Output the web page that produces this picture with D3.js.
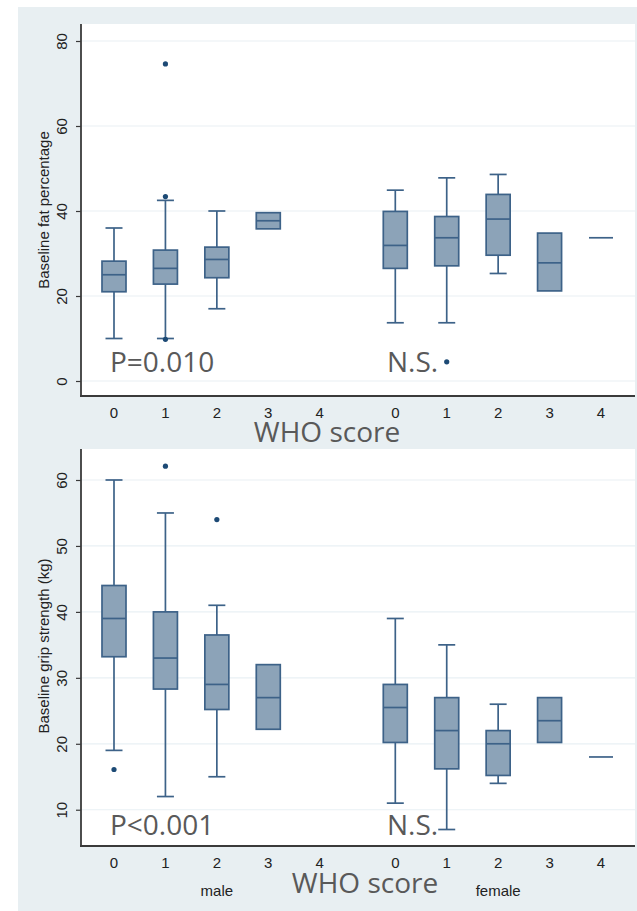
<!DOCTYPE html>
<html>
<head>
<meta charset="utf-8">
<script src="https://cdn.jsdelivr.net/npm/d3@7"></script>
<style>
  body { margin: 0; background: #ffffff; }
  svg { display: block; }
</style>
</head>
<body>
<div id="chart"></div>
<script>
// categories
var whoScores = [0, 1, 2, 3, 4];
var sexes = ["male", "female"];

// box stats per WHO score: [lower whisker, q1, median, q3, upper whisker]
var fatMale = [[10, 21, 25, 28.2, 36], [10, 22.8, 26.5, 30.8, 42.5], [17, 24.3, 28.6, 31.5, 40], [35.8, 35.8, 37.7, 39.6, 39.6], null];
var fatFemale = [[13.7, 26.5, 31.9, 39.9, 44.9], [13.7, 27.1, 33.7, 38.7, 47.8], [25.3, 29.6, 38.1, 43.9, 48.6], [21.2, 21.2, 27.8, 34.8, 34.8], [33.7, 33.7, 33.7, 33.7, 33.7]];
var fatOutliersMale = [[], [74.6, 43.4, 9.8], [], [], []];
var fatOutliersFemale = [[], [4.5], [], [], []];

var gripMale = [[19, 33.2, 39, 44, 60], [12, 28.3, 33, 40, 55], [15, 25.2, 29, 36.5, 41], [22.2, 22.2, 27, 32, 32], null];
var gripFemale = [[11, 20.2, 25.5, 29, 39], [7, 16.2, 22, 27, 35], [14, 15.2, 20, 22, 26], [20.2, 20.2, 23.5, 27, 27], [18, 18, 18, 18, 18]];
var gripOutliersMale = [[16.1], [62.1], [54], [], []];
var gripOutliersFemale = [[], [], [], [], []];

// tick labels
var fatTicks = [0, 20, 40, 60, 80];
var gripTicks = [10, 20, 30, 40, 50, 60];

var width = 637,
    height = 911,
    femaleOffset = 5.47, // gap between the two sex groups, in category units
    boxW = 24,
    capW = 17;

var boxFill = "#8ca3b8",
    boxStroke = "#3d6288",
    dotFill = "#1d4a75",
    gridCol = "#e9f0f4",
    noteCol = "#595959";

var svg = d3.select("#chart").append("svg")
    .attr("width", width)
    .attr("height", height);

// light outer graph region
svg.append("rect")
    .attr("x", 18)
    .attr("y", 7)
    .attr("width", width - 18)
    .attr("height", height - 7)
    .attr("fill", "#e8eff2");

var x = d3.scaleLinear()
    .domain([0, femaleOffset + 4])
    .range([114, 601]);

function pos(sexIdx, score) {
    return x(score + (sexIdx ? femaleOffset : 0));
}

function drawPanel(cfg) {
    var y = d3.scaleLinear().domain(cfg.domain).range([cfg.bottom, cfg.top]);
    var g = svg.append("g");

    g.append("rect")
        .attr("x", 81)
        .attr("y", cfg.top)
        .attr("width", 635 - 81)
        .attr("height", cfg.bottom - cfg.top)
        .attr("fill", "#ffffff");

    // grid
    g.append("g")
        .selectAll("line")
        .data(cfg.ticks)
        .enter().append("line")
        .attr("x1", 81).attr("x2", 635)
        .attr("y1", function(d) { return y(d); })
        .attr("y2", function(d) { return y(d); })
        .attr("stroke", gridCol)
        .attr("stroke-width", 1.2);

    // boxes
    var boxes = [];
    [cfg.male, cfg.female].forEach(function(arr, si) {
        arr.forEach(function(s, i) {
            if (s) boxes.push({ cx: pos(si, whoScores[i]), s: s });
        });
    });

    var bg = g.append("g").selectAll("g")
        .data(boxes)
        .enter().append("g");

    bg.filter(function(d) { return d.s[4] > d.s[3]; })
        .append("line")
        .attr("x1", function(d) { return d.cx; }).attr("x2", function(d) { return d.cx; })
        .attr("y1", function(d) { return y(d.s[3]); })
        .attr("y2", function(d) { return y(d.s[4]); });
    bg.filter(function(d) { return d.s[4] > d.s[3]; })
        .append("line")
        .attr("x1", function(d) { return d.cx - capW / 2; }).attr("x2", function(d) { return d.cx + capW / 2; })
        .attr("y1", function(d) { return y(d.s[4]); })
        .attr("y2", function(d) { return y(d.s[4]); });
    bg.filter(function(d) { return d.s[0] < d.s[1]; })
        .append("line")
        .attr("x1", function(d) { return d.cx; }).attr("x2", function(d) { return d.cx; })
        .attr("y1", function(d) { return y(d.s[1]); })
        .attr("y2", function(d) { return y(d.s[0]); });
    bg.filter(function(d) { return d.s[0] < d.s[1]; })
        .append("line")
        .attr("x1", function(d) { return d.cx - capW / 2; }).attr("x2", function(d) { return d.cx + capW / 2; })
        .attr("y1", function(d) { return y(d.s[0]); })
        .attr("y2", function(d) { return y(d.s[0]); });

    bg.filter(function(d) { return d.s[3] > d.s[1]; })
        .append("rect")
        .attr("x", function(d) { return d.cx - boxW / 2; })
        .attr("y", function(d) { return y(d.s[3]); })
        .attr("width", boxW)
        .attr("height", function(d) { return y(d.s[1]) - y(d.s[3]); })
        .attr("fill", boxFill);

    bg.append("line")
        .attr("x1", function(d) { return d.cx - boxW / 2; }).attr("x2", function(d) { return d.cx + boxW / 2; })
        .attr("y1", function(d) { return y(d.s[2]); })
        .attr("y2", function(d) { return y(d.s[2]); });

    bg.selectAll("line").attr("stroke", boxStroke).attr("stroke-width", 1.7);
    bg.selectAll("rect").attr("stroke", boxStroke).attr("stroke-width", 1.7);

    // outliers
    var pts = [];
    [cfg.outMale, cfg.outFemale].forEach(function(arr, si) {
        arr.forEach(function(vals, i) {
            vals.forEach(function(v) { pts.push({ cx: pos(si, whoScores[i]), v: v }); });
        });
    });
    g.append("g").selectAll("circle")
        .data(pts)
        .enter().append("circle")
        .attr("cx", function(d) { return d.cx; })
        .attr("cy", function(d) { return y(d.v); })
        .attr("r", 2.6)
        .attr("fill", dotFill);

    // y axis
    var yAxis = g.append("g")
        .attr("transform", "translate(81,0)")
        .call(d3.axisLeft(y).tickValues(cfg.ticks).tickSize(5).tickFormat(d3.format("d")));
    yAxis.select(".domain")
        .attr("d", "M0," + cfg.top + "V" + cfg.bottom)
        .attr("stroke", "#3a3a3a")
        .attr("stroke-width", 1.8);
    yAxis.selectAll(".tick line").attr("stroke", "#3a3a3a").attr("stroke-width", 1.2);
    yAxis.selectAll(".tick text")
        .attr("transform", "rotate(-90)")
        .attr("x", 0)
        .attr("y", -19)
        .attr("dy", "0.35em")
        .attr("text-anchor", "middle")
        .attr("fill", "#222")
        .style("font", "15px 'Liberation Sans', Arial, sans-serif");

    // bottom axis line
    g.append("line")
        .attr("x1", 80).attr("x2", 635)
        .attr("y1", cfg.bottom).attr("y2", cfg.bottom)
        .attr("stroke", "#3a3a3a")
        .attr("stroke-width", 1.8);

    // x category labels
    var labs = [];
    sexes.forEach(function(sx, si) {
        whoScores.forEach(function(sc) { labs.push({ cx: pos(si, sc), t: sc }); });
    });
    g.append("g").selectAll("text")
        .data(labs)
        .enter().append("text")
        .attr("x", function(d) { return d.cx; })
        .attr("y", cfg.bottom + 22)
        .attr("text-anchor", "middle")
        .attr("fill", "#222")
        .style("font", "15px 'Liberation Sans', Arial, sans-serif")
        .text(function(d) { return d.t; });

    if (cfg.groupLabels) {
        g.append("g").selectAll("text")
            .data(sexes)
            .enter().append("text")
            .attr("x", function(d, i) { return pos(i, 2); })
            .attr("y", cfg.bottom + 50)
            .attr("text-anchor", "middle")
            .attr("fill", "#222")
            .style("font", "15px 'Liberation Sans', Arial, sans-serif")
            .text(function(d) { return d; });
    }

    // y title
    g.append("text")
        .attr("transform", "translate(44," + cfg.titleY + ") rotate(-90)")
        .attr("text-anchor", "middle")
        .attr("dy", "0.35em")
        .attr("fill", "#222")
        .style("font", "15px 'Liberation Sans', Arial, sans-serif")
        .text(cfg.title);

    // annotations
    g.append("text")
        .attr("x", 110).attr("y", cfg.noteY)
        .attr("fill", noteCol)
        .style("font", "28px 'Open Sans', sans-serif")
        .text(cfg.pText);
    g.append("text")
        .attr("x", 387).attr("y", cfg.noteY)
        .attr("fill", noteCol)
        .style("font", "28px 'Open Sans', sans-serif")
        .text("N.S.");
    g.append("text")
        .attr("x", cfg.whoX).attr("y", cfg.whoY)
        .attr("text-anchor", "middle")
        .attr("fill", noteCol)
        .style("font", "28px 'Open Sans', sans-serif")
        .text("WHO score");
}

drawPanel({
    top: 24, bottom: 396, domain: [-3.53, 84], ticks: fatTicks,
    male: fatMale, female: fatFemale, outMale: fatOutliersMale, outFemale: fatOutliersFemale,
    title: "Baseline fat percentage", titleY: 210,
    pText: "P=0.010", noteY: 372, whoX: 327, whoY: 442, groupLabels: false
});

drawPanel({
    top: 449, bottom: 846, domain: [4.5, 64.7], ticks: gripTicks,
    male: gripMale, female: gripFemale, outMale: gripOutliersMale, outFemale: gripOutliersFemale,
    title: "Baseline grip strength (kg)", titleY: 646,
    pText: "P<0.001", noteY: 835, whoX: 365, whoY: 893, groupLabels: true
});
</script>
</body>
</html>
